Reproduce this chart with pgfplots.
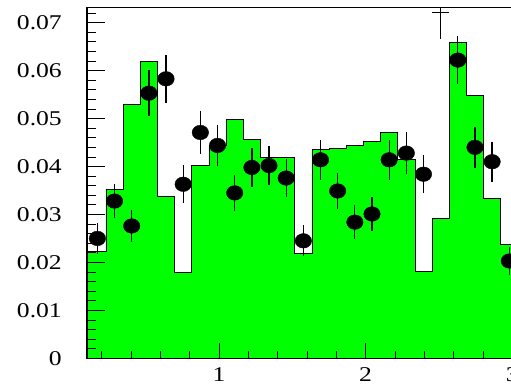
\documentclass[border=0pt]{standalone}
\usepackage{fontspec}
\setmainfont{Liberation Serif}[FakeStretch=1.22]
\usepackage{pgfplots}
\pgfplotsset{compat=1.18}
\definecolor{hgreen}{RGB}{0,255,0}

\begin{document}
\begin{tikzpicture}
\begin{axis}[
  scale only axis, width=425.3pt, height=350.8pt,
  xmin=0.1, xmax=3, ymin=0, ymax=0.07317,
  axis on top,
  clip=true,
  tick align=inside, tick pos=left,
  axis line style={line width=1.5pt},
  xtick={1,2,3}, xticklabels={1,2,3},
  minor xtick={0.2,0.4,0.6,0.8,1.2,1.4,1.6,1.8,2.2,2.4,2.6,2.8},
  ytick={0,0.01,0.02,0.03,0.04,0.05,0.06,0.07},
  yticklabels={0,0.01,0.02,0.03,0.04,0.05,0.06,0.07},
  minor ytick={0.002,0.004,0.006,0.008,0.012,0.014,0.016,0.018,0.022,0.024,0.026,0.028,0.032,0.034,0.036,0.038,0.042,0.044,0.046,0.048,0.052,0.054,0.056,0.058,0.062,0.064,0.066,0.068,0.072},
  scaled y ticks=false,
  xtick style={/pgfplots/major tick length=15pt, /pgfplots/minor tick length=7.5pt, line width=0.8pt, black},
  ytick style={/pgfplots/major tick length=18pt, /pgfplots/minor tick length=9pt, line width=0.8pt, black},
  ticklabel style={font=\fontsize{21}{24}\selectfont},
  yticklabel style={anchor=east, inner sep=0pt, xshift=-25pt},
  xticklabel style={anchor=north, inner sep=0pt, yshift=-9.5pt},
]
% histogram (bin left edges, last point = right edge)
\addplot[const plot, fill=hgreen, draw=black, line width=0.8pt] coordinates {
(0.1000,0.0222) (0.2293,0.0353) (0.3463,0.0530) (0.4634,0.0619) (0.5804,0.0338)
(0.6974,0.0179) (0.8145,0.0402) (0.9315,0.0444) (1.0485,0.0499) (1.1656,0.0457)
(1.2826,0.0418) (1.3996,0.0418) (1.5167,0.0219) (1.6337,0.0435) (1.7507,0.0437)
(1.8678,0.0444) (1.9848,0.0452) (2.1018,0.0471) (2.2189,0.0415) (2.3359,0.0181)
(2.4529,0.0292) (2.5700,0.0658) (2.6870,0.0548) (2.8040,0.0334) (2.9211,0.0238)
(3.0381,0.0238)} \closedcycle;
% data points
\addplot[only marks, mark=*, mark size=7.3pt,
  mark options={fill=black, draw=black, xscale=1.13},
  error bars/.cd, y dir=both, y explicit, error mark=none,
  error bar style={line width=1.3pt, black}] coordinates {
(0.1708,0.0250) +- (0,0.0032)
(0.2878,0.0328) +- (0,0.0036)
(0.4048,0.0276) +- (0,0.0033)
(0.5219,0.0553) +- (0,0.0048)
(0.6389,0.0583) +- (0,0.0050)
(0.7559,0.0363) +- (0,0.0040)
(0.8730,0.0471) +- (0,0.0044)
(0.9900,0.0444) +- (0,0.0043)
(1.1070,0.0345) +- (0,0.0038)
(1.2241,0.0398) +- (0,0.0040)
(1.3411,0.0402) +- (0,0.0041)
(1.4581,0.0376) +- (0,0.0040)
(1.5752,0.0245) +- (0,0.0032)
(1.6922,0.0414) +- (0,0.0042)
(1.8092,0.0349) +- (0,0.0038)
(1.9263,0.0284) +- (0,0.0035)
(2.0433,0.0301) +- (0,0.0036)
(2.1603,0.0414) +- (0,0.0042)
(2.2774,0.0428) +- (0,0.0043)
(2.3944,0.0384) +- (0,0.0040)
(2.6285,0.0622) +- (0,0.0050)
(2.7455,0.0440) +- (0,0.0043)
(2.8625,0.0410) +- (0,0.0042)
(2.9796,0.0203) +- (0,0.0029)};
% off-scale point in bin 21
\addplot[black, line width=1pt] coordinates {(2.4529,0.0721) (2.5700,0.0721)};
\addplot[black, line width=1.3pt] coordinates {(2.5114,0.0666) (2.5114,0.0770)};
\end{axis}
\pgfresetboundingbox
\path[use as bounding box] ([shift={(-87pt,-29.7pt)}]current axis.south west) rectangle ([shift={(-1.3pt,7.5pt)}]current axis.north east);
\end{tikzpicture}
\end{document}
